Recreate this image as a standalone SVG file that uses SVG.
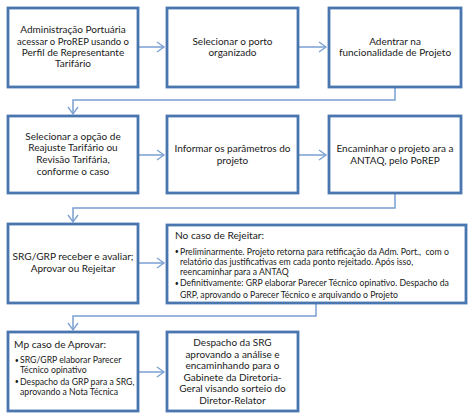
<svg xmlns="http://www.w3.org/2000/svg" width="474" height="418" viewBox="0 0 474 418">
<defs>
<marker id="arr" markerWidth="10" markerHeight="12" refX="8" refY="6" orient="auto" markerUnits="userSpaceOnUse">
<path d="M1,1 L8,6 L1,11" fill="none" stroke="#7a9fd2" stroke-width="1.3"/>
</marker>
</defs>
<style>
.box{fill:#ffffff;stroke:#4a76b0;stroke-width:2.8}
.t{font-family:Lato,"Liberation Sans",sans-serif;font-size:10px;fill:#1a1a1a;text-anchor:middle}
.h{font-family:Lato,"Liberation Sans",sans-serif;font-size:10.2px;fill:#1a1a1a}
.s{font-family:Lato,"Liberation Sans",sans-serif;font-size:8.7px;fill:#1a1a1a}
.b{font-family:Lato,"Liberation Sans",sans-serif;font-size:7px;fill:#1a1a1a}
.c{fill:none;stroke:#7a9fd2;stroke-width:1.5}
</style>
<rect width="474" height="418" fill="#ffffff"/>
<g id="connectors">
<path class="c" d="M139,47 H164" marker-end="url(#arr)"/>
<path class="c" d="M299,47 H326" marker-end="url(#arr)"/>
<path class="c" d="M395,88 V100 H73 V114" marker-end="url(#arr)"/>
<path class="c" d="M139,155 H164" marker-end="url(#arr)"/>
<path class="c" d="M299,155 H326" marker-end="url(#arr)"/>
<path class="c" d="M395,194 V208 H73 V222" marker-end="url(#arr)"/>
<path class="c" d="M139,263 H164" marker-end="url(#arr)"/>
<path class="c" d="M316,304 V316 H73 V330" marker-end="url(#arr)"/>
<path class="c" d="M139,372 H164" marker-end="url(#arr)"/>
</g>
<g id="n1">
<rect class="box" x="8" y="8" width="130" height="79"/>
<text class="t" x="73" y="33">Administração Portuária</text>
<text class="t" x="73" y="45" textLength="112" lengthAdjust="spacingAndGlyphs">acessar o ProREP usando o</text>
<text class="t" x="73" y="56">Perfil de Representante</text>
<text class="t" x="73" y="67">Tarifário</text>
</g>
<g id="n2">
<rect class="box" x="167" y="8" width="131" height="79"/>
<text class="t" x="232.5" y="45">Selecionar o porto</text>
<text class="t" x="232.5" y="56">organizado</text>
</g>
<g id="n3">
<rect class="box" x="329" y="8" width="132" height="79"/>
<text class="t" x="395" y="45">Adentrar na</text>
<text class="t" x="395" y="56">funcionalidade de Projeto</text>
</g>
<g id="n4">
<rect class="box" x="8" y="116" width="130" height="77"/>
<text class="t" x="73" y="139.5">Selecionar a opção de</text>
<text class="t" x="73" y="151">Reajuste Tarifário ou</text>
<text class="t" x="73" y="163">Revisão Tarifária,</text>
<text class="t" x="73" y="174.5">conforme o caso</text>
</g>
<g id="n5">
<rect class="box" x="167" y="116" width="131" height="77"/>
<text class="t" x="232.5" y="152">Informar os parâmetros do</text>
<text class="t" x="232.5" y="164">projeto</text>
</g>
<g id="n6">
<rect class="box" x="329" y="116" width="132" height="77"/>
<text class="t" x="395" y="152">Encaminhar o projeto ara a</text>
<text class="t" x="395" y="164">ANTAQ, pelo PoREP</text>
</g>
<g id="n7">
<rect class="box" x="8" y="224" width="130" height="79"/>
<text class="t" x="73" y="260" textLength="121" lengthAdjust="spacingAndGlyphs">SRG/GRP receber e avaliar;</text>
<text class="t" x="73" y="272">Aprovar ou Rejeitar</text>
</g>
<g id="n8">
<rect class="box" x="167" y="225" width="299" height="78"/>
<text class="h" x="175" y="239">No caso de Rejeitar:</text>
<text class="b" x="174.8" y="254">•</text>
<text class="s" x="180" y="254.5" xml:space="preserve">Preliminarmente. Projeto retorna para retificação da Adm. Port.,  com o</text>
<text class="s" x="180" y="265">relatório das justificativas em cada ponto rejeitado. Após isso,</text>
<text class="s" x="180" y="274.5">reencaminhar para a ANTAQ</text>
<text class="b" x="174.8" y="285.5">•</text>
<text class="s" x="180" y="286">Definitivamente: GRP elaborar Parecer Técnico opinativo. Despacho da</text>
<text class="s" x="180" y="297.5">GRP, aprovando o Parecer Técnico e arquivando o Projeto</text>
</g>
<g id="n9">
<rect class="box" x="8" y="332" width="130" height="79"/>
<text class="h" x="14" y="348">Mp caso de Aprovar:</text>
<text class="b" x="14.8" y="362.5">•</text>
<text class="s" x="20" y="363">SRG/GRP elaborar Parecer</text>
<text class="s" x="20" y="373">Técnico opinativo</text>
<text class="b" x="14.8" y="384">•</text>
<text class="s" x="20" y="384.5">Despacho da GRP para a SRG,</text>
<text class="s" x="20" y="394.5">aprovando a Nota Técnica</text>
</g>
<g id="n10">
<rect class="box" x="167" y="332" width="131" height="79"/>
<text class="t" x="232.5" y="346">Despacho da SRG</text>
<text class="t" x="232.5" y="357.5">aprovando a análise e</text>
<text class="t" x="232.5" y="369">encaminhando para o</text>
<text class="t" x="232.5" y="380.5">Gabinete da Diretoria-</text>
<text class="t" x="232.5" y="392">Geral visando sorteio do</text>
<text class="t" x="232.5" y="403.5">Diretor-Relator</text>
</g>
</svg>
